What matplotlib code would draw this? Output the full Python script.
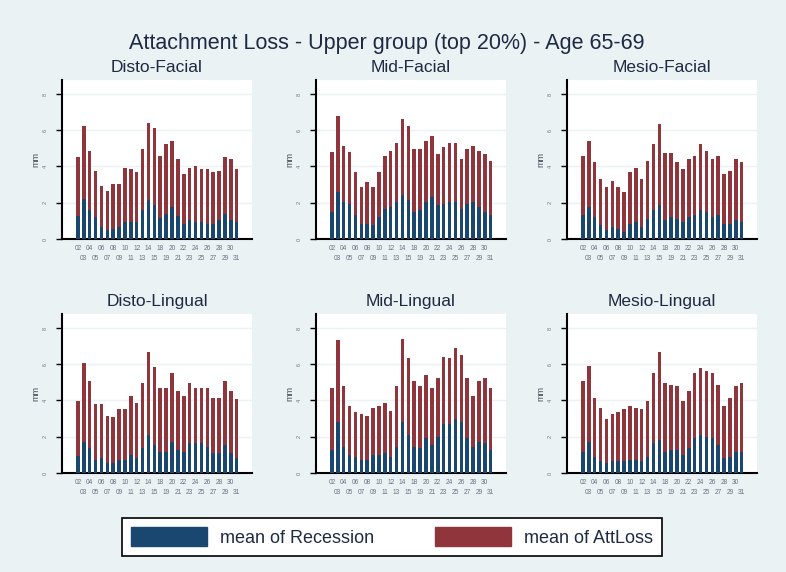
import matplotlib
matplotlib.use("Agg")
import matplotlib.pyplot as plt
from matplotlib.patches import Patch

W, H = 786, 572
BG = "#eaf2f3"
BLUE = "#1a476f"
RED = "#90353b"
TXT = "#1e2a44"

plt.rcParams['font.family'] = ['Liberation Sans', 'DejaVu Sans']

teeth = ["02", "03", "04", "05", "06", "07", "08", "09", "10", "11", "12", "13", "14", "15",
         "18", "19", "20", "21", "22", "23", "24", "25", "26", "27", "28", "29", "30", "31"]

titles = ["Disto-Facial", "Mid-Facial", "Mesio-Facial",
          "Disto-Lingual", "Mid-Lingual", "Mesio-Lingual"]

# mean of AttLoss (mm), per tooth
attloss_df = [4.50, 6.22, 4.86, 3.76, 2.94, 2.66, 3.03, 3.03, 3.94, 3.85, 3.67, 4.95, 6.40, 6.13,
              4.59, 5.23, 5.41, 4.40, 3.58, 3.94, 4.04, 3.85, 3.85, 3.67, 3.76, 4.50, 4.40, 3.85]
attloss_mf = [4.79, 6.79, 5.14, 4.79, 3.69, 2.86, 3.14, 2.86, 3.69, 4.59, 4.86, 5.32, 6.61, 6.22,
              4.95, 4.95, 5.41, 5.69, 4.68, 5.05, 5.32, 5.32, 4.40, 4.95, 5.14, 4.86, 4.68, 4.31]
attloss_sf = [4.59, 5.41, 4.22, 3.30, 2.86, 3.21, 2.86, 2.59, 3.67, 3.94, 3.30, 4.31, 5.23, 6.33,
              4.77, 4.77, 4.22, 3.85, 4.40, 4.59, 5.23, 4.86, 4.40, 4.59, 3.58, 3.76, 4.40, 4.22]
attloss_dl = [3.99, 6.06, 5.06, 3.79, 3.79, 3.16, 3.07, 3.52, 3.52, 4.25, 3.88, 4.97, 6.68, 5.86,
              4.70, 4.70, 5.52, 4.52, 4.25, 4.97, 4.70, 4.70, 4.70, 4.16, 4.16, 5.06, 4.52, 4.07]
attloss_ml = [4.70, 7.31, 4.79, 3.70, 3.34, 3.25, 3.16, 3.61, 3.70, 3.88, 3.43, 4.79, 7.40, 6.33,
              5.06, 4.79, 5.43, 4.70, 5.24, 6.42, 6.33, 6.88, 6.52, 5.24, 4.25, 5.06, 5.24, 4.70]
attloss_sl = [5.06, 5.88, 4.16, 3.61, 2.98, 3.25, 3.34, 3.52, 3.70, 3.61, 3.52, 3.97, 5.52, 6.68,
              4.97, 4.88, 4.79, 3.97, 4.52, 5.52, 5.79, 5.61, 5.52, 4.88, 3.70, 4.16, 4.79, 4.97]

# mean of Recession (mm), per tooth
recession_df = [1.28, 2.22, 1.60, 1.23, 0.64, 0.48, 0.57, 0.66, 0.92, 0.94, 0.94, 1.60, 2.13, 1.85,
                1.14, 1.39, 1.74, 1.28, 0.84, 1.03, 0.94, 0.94, 0.84, 0.84, 1.03, 1.39, 1.03, 0.94]
recession_mf = [1.49, 2.59, 2.04, 1.93, 1.30, 0.84, 0.84, 0.75, 1.21, 1.67, 1.76, 2.04, 2.40, 2.13,
                1.49, 1.58, 2.04, 2.31, 1.85, 1.94, 2.04, 2.04, 1.67, 1.94, 2.04, 1.76, 1.49, 1.30]
recession_sf = [1.30, 1.76, 1.21, 0.75, 0.48, 0.66, 0.57, 0.39, 0.84, 0.94, 0.66, 1.12, 1.58, 1.85,
                1.03, 1.21, 1.12, 0.94, 1.21, 1.30, 1.58, 1.49, 1.21, 1.30, 0.84, 0.84, 1.03, 0.94]
recession_dl = [0.93, 1.72, 1.36, 0.73, 0.82, 0.56, 0.54, 0.73, 0.73, 1.00, 0.82, 1.36, 2.07, 1.54,
                1.18, 1.18, 1.72, 1.27, 1.18, 1.63, 1.63, 1.63, 1.45, 1.09, 1.09, 1.54, 1.09, 0.82]
recession_ml = [1.27, 2.79, 1.45, 1.00, 0.91, 0.73, 0.73, 1.00, 1.00, 1.09, 0.91, 1.45, 2.79, 2.07,
                1.45, 1.36, 1.91, 1.54, 2.00, 2.70, 2.70, 2.98, 2.79, 1.91, 1.45, 1.72, 1.63, 1.27]
recession_sl = [1.18, 1.72, 0.91, 0.64, 0.54, 0.64, 0.64, 0.64, 0.73, 0.73, 0.64, 0.91, 1.63, 1.81,
                1.18, 1.27, 1.27, 1.00, 1.36, 1.91, 2.09, 2.00, 1.91, 1.54, 0.82, 0.91, 1.18, 1.18]

attloss = [attloss_df, attloss_mf, attloss_sf, attloss_dl, attloss_ml, attloss_sl]
recession = [recession_df, recession_mf, recession_sf, recession_dl, recession_ml, recession_sl]

fig = plt.figure(figsize=(W / 100, H / 100), dpi=100, facecolor=BG)

col_left = [62, 316, 567]
row_bottom = [239, 473]
ax_w, ax_h = 190, 159

x = list(range(len(teeth)))
xlabels = [t if i % 2 == 0 else "\n" + t for i, t in enumerate(teeth)]

for k in range(6):
    r, c = divmod(k, 3)
    ax = fig.add_axes([col_left[c] / W, 1 - row_bottom[r] / H, ax_w / W, ax_h / H])
    ax.set_facecolor("white")
    ax.bar(x, attloss[k], width=0.6, color=RED, zorder=2)
    ax.bar(x, recession[k], width=0.6, color=BLUE, zorder=3)
    ax.set_xlim(-2.7, 29.6)
    ax.set_ylim(0, 8.77)
    ax.set_yticks([0, 2, 4, 6, 8])
    ax.set_yticklabels(["0", "2", "4", "6", "8"], rotation=90, va="center",
                       fontsize=4, color="#6b7585")
    ax.set_xticks(x)
    ax.set_xticklabels(xlabels, fontsize=4.8, color="#6b7585", linespacing=1.75)
    ax.tick_params(axis="x", length=0, pad=4)
    ax.tick_params(axis="y", length=4, width=1, pad=6)
    ax.grid(axis="y", color=BG, lw=1, zorder=1)
    for s in ["top", "right"]:
        ax.spines[s].set_visible(False)
    for s in ["left", "bottom"]:
        ax.spines[s].set_linewidth(1.5)
    ax.set_ylabel("mm", fontsize=6.5, color="#444a55", labelpad=2)
    ax.set_title(titles[k], fontsize=12.5, color=TXT, pad=6)

fig.text(387 / W, 1 - 43 / H, "Attachment Loss - Upper group (top 20%) - Age 65-69",
         ha="center", va="center", fontsize=15.5, color=TXT)

handles = [Patch(color=BLUE, label="mean of Recession"), Patch(color=RED, label="mean of AttLoss")]
fig.legend(handles=handles, loc="center", bbox_to_anchor=(392 / W, 1 - 537 / H), ncol=2,
           fontsize=13, frameon=True, fancybox=False, edgecolor="black", framealpha=1,
           handlelength=4.2, handleheight=1.2, handletextpad=0.7, columnspacing=3.4,
           borderpad=0.5, labelcolor=TXT).get_frame().set_linewidth(1.2)

fig.savefig("out.png", dpi=100, facecolor=BG)
